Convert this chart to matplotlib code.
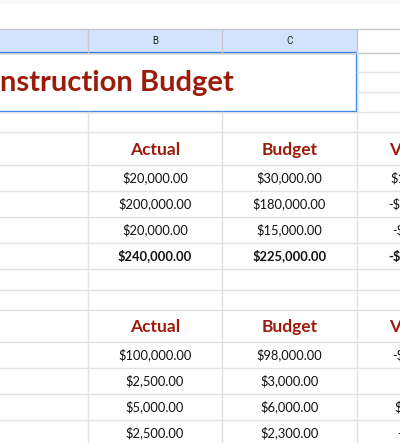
import matplotlib
matplotlib.use("Agg")
import matplotlib.pyplot as plt
from matplotlib.patches import Rectangle

col_letters = ["B", "C"]
title = "Construction Budget"
headers = ["Actual", "Budget", "Variance"]
actual1 = [20000, 200000, 20000]
budget1 = [30000, 180000, 15000]
actual2 = [100000, 2500, 5000, 2500]
budget2 = [98000, 3000, 6000, 2300]

def money(v):
    s = "${:,.2f}".format(abs(v))
    return "-" + s if v < 0 else s

fig = plt.figure(figsize=(4, 4.43), dpi=100)
ax = fig.add_axes([0, 0, 1, 1])
ax.set_xlim(0, 400); ax.set_ylim(443, 0); ax.axis("off")
plt.rcParams['font.family'] = ['Lato', 'DejaVu Sans']

grid = "#e2e2e2"
red = "#9c1c0c"
colx = [88, 222, 357, 490]
ax.add_patch(Rectangle((0, 0), 400, 4, color="#f8f9fa", lw=0))
ax.add_patch(Rectangle((0, 29), 357, 23, color="#d3e3fd", lw=0))
ax.plot([0, 400], [29, 29], color="#c4c7c5", lw=1)
ax.plot([0, 400], [52.5, 52.5], color="#c4c7c5", lw=1)
for x in colx[:3]:
    ax.plot([x, x], [29, 52], color="#c4c7c5", lw=1)
for L, x0, x1 in zip(col_letters, colx[:2], colx[1:3]):
    ax.text((x0 + x1) / 2, 41, L, ha="center", va="center", fontsize=7, family="Roboto", color="#1f1f1f")

row_lines = [72, 92, 112, 132, 165, 191, 217, 243, 269, 290, 310, 342, 368, 394, 420, 446]
for y in row_lines:
    x0 = 357 if y in (72, 92) else 0
    ax.plot([x0, 400], [y, y], color=grid, lw=1)
for x in colx[:3]:
    ax.plot([x, x], [112, 443], color=grid, lw=1)
ax.plot([357, 357], [52, 112], color=grid, lw=1)

ax.add_patch(Rectangle((-5, 53), 362, 59, fill=False, ec="#1a73e8", lw=1.6))
ax.text(-36, 83, title, ha="left", va="center", fontsize=21, fontweight="bold", color=red)

def block(yh, act, bud, bold_last):
    for h, x0, x1 in zip(headers, colx[:3], colx[1:]):
        ax.text((x0 + x1) / 2, yh, h, ha="center", va="center", fontsize=12.5,
                fontweight="bold", color=red, clip_on=True)
    for i, (a, b) in enumerate(zip(act, bud)):
        y = yh + 28 + 26 * i
        w = "bold" if (bold_last and i == len(act) - 1) else "normal"
        for v, x0, x1 in zip([a, b, b - a], colx[:3], colx[1:]):
            ax.text((x0 + x1) / 2, y, money(v), ha="center", va="center", fontsize=9.3,
                    fontweight=w, color="#111111", clip_on=True)

block(150, actual1 + [sum(actual1)], budget1 + [sum(budget1)], True)
block(327, actual2, budget2, False)

fig.savefig("out.png", dpi=100)
